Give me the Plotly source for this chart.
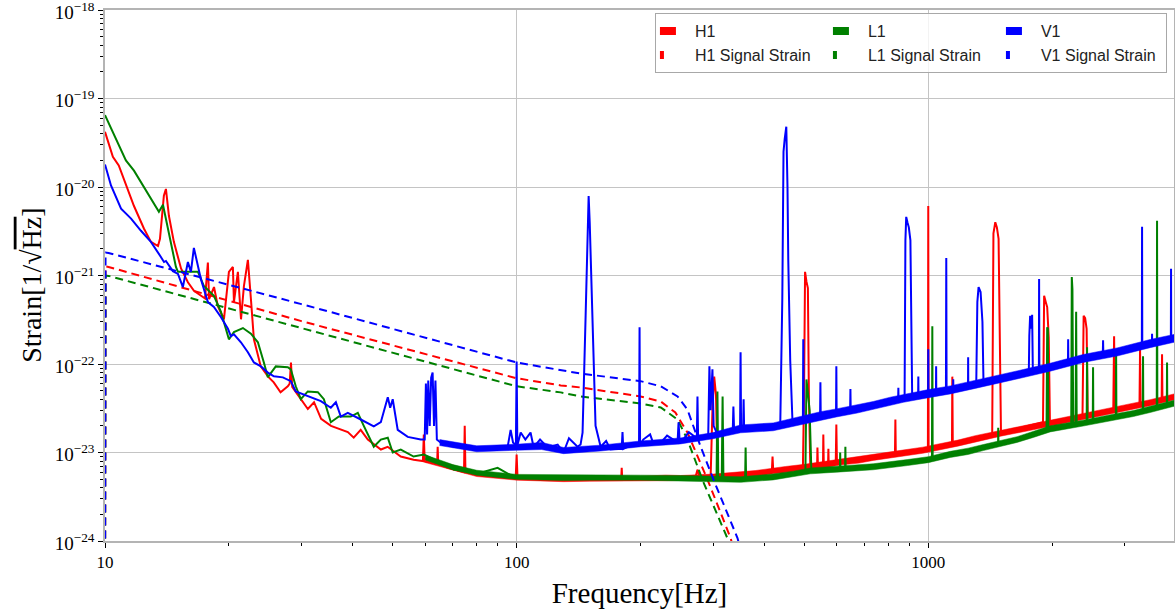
import plotly.graph_objects as go

# ---------------- H1 (Hanford) amplitude spectral density ----------------
h1_freq = [
    10.0, 10.45, 10.8, 11.24, 11.76, 12.43, 12.93, 13.45, 13.6, 13.9,
    14.06, 14.3, 14.7, 15.3, 15.9, 16.45, 17.1, 17.5, 17.78, 17.9,
    18.4, 18.8, 19.45, 20.0, 20.45, 20.57, 21.03, 21.4, 21.75, 22.24,
    22.62, 23.0, 23.9, 24.9, 25.7, 26.7, 27.8, 28.1, 28.3, 28.5,
    28.75, 29.6, 31.1, 32.2, 33.5, 35.4, 37.4, 38.9, 40.2, 41.8,
    43.5, 46.8, 48.6, 52.3, 56.2, 59.2, 59.5, 59.8, 62.9, 64.1,
    64.3, 64.5, 68.0, 74.5, 74.8, 75.1, 82.0, 99.5, 100.0, 100.5,
    150, 179.5, 180, 180.5, 250, 272, 275, 278, 296, 299,
    302, 305, 308, 350, 417, 418.5, 420, 496, 499, 502,
    506, 510, 513, 517, 537, 538, 539.5, 555, 556, 557.5,
    571, 572, 573, 596, 598, 600, 610, 735, 830, 832,
    834, 970, 998, 1000, 1002, 1142, 1144, 1147, 1180, 1430,
    1440, 1455, 1468, 1482, 1495, 1502, 1900, 1912, 1930, 1945,
    1962, 1975, 2370, 2385, 2405, 2425, 2440, 2615, 2815, 2828,
    2840, 3260, 3270, 3280, 3460, 3690, 3698, 3706, 3955,
]
h1_asd = [
    4.2e-20, 2.2e-20, 1.75e-20, 1.04e-20, 6.1e-21, 3.4e-21, 2.4e-21, 2.15e-21, 2.6e-21, 8.0e-21,
    9.5e-21, 4.7e-21, 2.4e-21, 1.2e-21, 8.4e-22, 6.7e-22, 5.9e-22, 5.5e-22, 1.4e-21, 5.4e-22,
    7.4e-22, 4.5e-22, 3.2e-22, 1.1e-21, 1.25e-21, 5.0e-22, 1.1e-21, 3.2e-22, 7.6e-22, 1.5e-21,
    5.4e-22, 1.9e-22, 9.4e-23, 7.2e-23, 6.2e-23, 4.8e-23, 5.6e-23, 6.0e-23, 1.04e-22, 5.5e-23,
    5.2e-23, 4.3e-23, 3.1e-23, 3.7e-23, 2.4e-23, 2.0e-23, 1.8e-23, 1.7e-23, 1.47e-23, 1.8e-23,
    1.4e-23, 1.08e-23, 1.16e-23, 9.0e-24, 8.3e-24, 8.0e-24, 1.6e-23, 7.9e-24, 7.7e-24, 7.5e-24,
    1.16e-23, 7.4e-24, 6.7e-24, 6.0e-24, 2.0e-23, 6.0e-24, 5.6e-24, 5.2e-24, 9.5e-24, 5.2e-24,
    5.05e-24, 5.05e-24, 6.7e-24, 5.05e-24, 5.15e-24, 5.3e-24, 6.4e-24, 5.4e-24, 5.3e-24, 3.0e-23,
    7.2e-23, 4.5e-23, 5.3e-24, 5.6e-24, 6.3e-24, 9.0e-24, 6.4e-24, 6.8e-24, 4.0e-23, 1.1e-21,
    8.5e-22, 7.2e-22, 4.0e-23, 6.9e-24, 7.1e-24, 1.14e-23, 7.1e-24, 7.2e-24, 1.6e-23, 7.2e-24,
    7.4e-24, 1.1e-23, 7.4e-24, 7.6e-24, 2.07e-23, 7.6e-24, 7.8e-24, 9.0e-24, 9.5e-24, 2.36e-23,
    9.5e-24, 1.05e-23, 1.06e-23, 6.1e-21, 1.07e-23, 1.25e-23, 7.2e-23, 1.25e-23, 1.29e-23, 1.6e-23,
    3.0e-21, 4.0e-21, 3.5e-21, 2.6e-21, 1.0e-22, 1.68e-23, 2.2e-23, 5.9e-22, 5.0e-22, 4.4e-22,
    2.0e-22, 2.24e-23, 2.6e-23, 3.5e-22, 3.3e-22, 2.5e-22, 2.65e-23, 2.83e-23, 3.0e-23, 2.06e-22,
    3.0e-23, 3.5e-23, 1.47e-22, 3.5e-23, 3.68e-23, 3.9e-23, 1.29e-22, 3.9e-23, 4.3e-23,
]
# spread of the noisy floor (lower / upper edge)
h1_band_freq = [60, 70, 80, 100, 130, 150, 200, 230, 250, 300, 380, 420, 450, 500, 560,
                610, 680, 735, 850, 970, 1180, 1300, 1500, 1750, 1980, 2250, 2615, 3000, 3460, 3955]
h1_band_low = [7.7e-24, 6.3e-24, 5.35e-24, 4.87e-24, 4.68e-24, 4.73e-24, 4.73e-24, 4.8e-24, 4.83e-24, 4.93e-24,
               5.3e-24, 5.74e-24, 5.9e-24, 6.29e-24, 6.7e-24, 7.22e-24, 7.6e-24, 8.14e-24, 9.0e-24, 9.8e-24,
               1.18e-23, 1.32e-23, 1.53e-23, 1.76e-23, 1.99e-23, 2.25e-23, 2.59e-23, 2.95e-23, 3.38e-23, 3.93e-23]
h1_band_high = [8.75e-24, 7.2e-24, 6.1e-24, 5.55e-24, 5.45e-24, 5.39e-24, 5.39e-24, 5.55e-24, 5.5e-24, 5.7e-24,
                6.25e-24, 6.7e-24, 6.95e-24, 7.35e-24, 7.95e-24, 8.43e-24, 9.0e-24, 9.51e-24, 1.05e-23, 1.15e-23,
                1.38e-23, 1.55e-23, 1.78e-23, 2.08e-23, 2.32e-23, 2.65e-23, 3.03e-23, 3.45e-23, 3.95e-23, 4.59e-23]
h1_sig_freq = [10.0, 10.03, 10.2, 30.0, 100.0, 128.0, 143.0, 200.0, 224.0, 243.0, 260.0, 291.0, 331.0, 360.0]
h1_sig = [1e-25, 1.27e-21, 1.25e-21, 3.05e-22, 6.9e-23, 5.73e-23, 5.43e-23, 4.3e-23, 3.77e-23, 2.83e-23,
          1.68e-23, 4.92e-24, 1.08e-24, 2.5e-25]

# ---------------- L1 (Livingston) ----------------
l1_freq = [
    10.0, 11.24, 11.76, 12.43, 13.52, 13.83, 14.22, 14.87, 15.04, 16.82,
    17.39, 18.39, 19.12, 19.66, 20.0, 20.57, 21.63, 22.62, 23.52, 24.32,
    24.87, 26.0, 27.8, 28.28, 29.07, 29.9, 31.09, 32.89, 34.02, 35.37,
    36.99, 39.55, 41.13, 42.53, 44.98, 46.78, 48.64, 50.0, 52.3, 56.2,
    59.5, 65.4, 70.3, 76.0, 81.8, 89.9, 98.3, 150, 200, 300,
    306, 307.5, 309, 315, 316.5, 318, 359, 360, 361, 420,
    503, 506, 510, 515, 520, 610, 611, 612, 628, 629,
    630, 735, 890, 1000, 1021, 1023, 1025, 1131, 1360, 1478,
    1479, 1481, 1644, 1938, 1945, 1952, 1958, 1978, 2225, 2232,
    2240, 2250, 2280, 2287, 2294, 2378, 2426, 2431, 2436, 2510,
    2514, 2518, 2855, 2860, 2865, 2875, 3320, 3325, 3330, 3459,
    3590, 3596, 3602, 3798, 3803, 3808, 3955,
]
l1_asd = [
    6.5e-20, 2.0e-20, 1.53e-20, 1.0e-20, 5.25e-21, 6.3e-21, 3.4e-21, 1.25e-21, 1.1e-21, 1.1e-21,
    7.6e-22, 5.9e-22, 3.9e-22, 2.5e-22, 1.9e-22, 2.3e-22, 2.55e-22, 2.2e-22, 1.76e-22, 1.04e-22,
    7.1e-23, 9.4e-23, 9.2e-23, 8.7e-23, 5.6e-23, 4.0e-23, 4.9e-23, 4.8e-23, 4.0e-23, 2.2e-23,
    2.55e-23, 2.55e-23, 2.8e-23, 2.0e-23, 1.16e-23, 1.4e-23, 1.47e-23, 1.0e-23, 1.08e-23, 9.0e-24,
    9.5e-24, 7.7e-24, 6.4e-24, 6.1e-24, 5.9e-24, 6.7e-24, 5.3e-24, 5.2e-24, 5.2e-24, 5.05e-24,
    5.05e-24, 4.9e-23, 5.05e-24, 5.0e-24, 4.3e-23, 5.0e-24, 4.95e-24, 1.14e-23, 4.95e-24, 5.3e-24,
    6.1e-24, 6.7e-23, 5.0e-23, 3.0e-23, 6.2e-24, 6.5e-24, 1.0e-23, 6.5e-24, 6.6e-24, 1.16e-23,
    6.6e-24, 6.9e-24, 7.7e-24, 8.3e-24, 8.4e-24, 2.67e-22, 8.4e-24, 9.5e-24, 1.14e-23, 1.25e-23,
    1.9e-23, 1.25e-23, 1.4e-23, 1.8e-23, 2.6e-22, 2.5e-22, 1.85e-23, 1.91e-23, 2.05e-23, 9.6e-22,
    7.0e-22, 2.05e-23, 2.1e-23, 3.9e-22, 2.1e-23, 2.18e-23, 2.2e-23, 1.55e-22, 2.2e-23, 2.3e-23,
    9.2e-23, 2.3e-23, 2.5e-23, 1.47e-22, 2.5e-23, 2.55e-23, 2.9e-23, 1.22e-22, 2.9e-23, 3.06e-23,
    3.2e-23, 4.15e-21, 3.2e-23, 3.5e-23, 1.04e-22, 3.5e-23, 3.68e-23,
]
l1_band_freq = [60, 70, 80, 100, 130, 150, 200, 250, 300, 350, 420, 470, 517, 600, 735,
                890, 1000, 1131, 1250, 1360, 1644, 1800, 1978, 2378, 2600, 2875, 3150, 3459, 3955]
l1_band_low = [8.25e-24, 6.4e-24, 5.53e-24, 4.97e-24, 4.82e-24, 4.87e-24, 4.87e-24, 4.78e-24, 4.7e-24, 4.6e-24,
               4.9e-24, 5.3e-24, 5.74e-24, 6.0e-24, 6.38e-24, 7.12e-24, 7.68e-24, 8.79e-24, 9.5e-24, 1.05e-23,
               1.3e-23, 1.48e-23, 1.71e-23, 1.99e-23, 2.15e-23, 2.36e-23, 2.55e-23, 2.83e-23, 3.33e-23]
l1_band_high = [9.4e-24, 7.3e-24, 6.3e-24, 5.66e-24, 5.55e-24, 5.55e-24, 5.55e-24, 5.5e-24, 5.43e-24, 5.32e-24,
                5.73e-24, 6.15e-24, 6.7e-24, 7.0e-24, 7.46e-24, 8.32e-24, 8.97e-24, 1.03e-23, 1.12e-23, 1.23e-23,
                1.51e-23, 1.72e-23, 2.0e-23, 2.32e-23, 2.5e-23, 2.76e-23, 2.98e-23, 3.31e-23, 3.89e-23]
l1_sig_freq = [10.0, 10.03, 10.2, 30.0, 100.0, 128.0, 143.0, 200.0, 224.0, 246.0, 260.0, 284.0, 325.0, 355.0]
l1_sig = [1e-25, 1.0e-21, 9.9e-22, 2.54e-22, 5.6e-23, 4.78e-23, 4.3e-23, 3.58e-23, 3.23e-23, 2.36e-23,
          1.40e-23, 4.67e-24, 1.08e-24, 2.5e-25]

# ---------------- V1 (Virgo) ----------------
v1_freq = [
    10.0, 10.34, 10.94, 11.57, 12.23, 12.93, 13.67, 13.91, 14.06, 14.62,
    15.04, 15.46, 15.9, 16.17, 16.44, 16.82, 17.1, 17.78, 18.39, 19.12,
    19.89, 20.22, 20.57, 21.39, 22.24, 23.0, 23.92, 24.87, 25.72, 27.04,
    28.28, 29.07, 31.09, 33.45, 35.37, 36.38, 37.4, 38.89, 41.82, 44.98,
    46.78, 48.0, 48.64, 49.3, 50.0, 51.42, 54.39, 58.48, 59.8, 60.2,
    60.6, 61.0, 61.5, 62.0, 62.5, 63.0, 63.5, 64.0, 65.4, 70.3,
    76.0, 81.8, 88.0, 95.1, 96.7, 98.0, 99.6, 100.0, 100.4, 102.3,
    105, 108.1, 110, 114, 118.9, 125.8, 130, 134, 140.6, 143, 144.6, 147.1,
    149.0, 149.6, 150.5, 153, 155.5, 160, 165, 169, 180, 180.8, 181.6,
    186, 198.3, 198.9, 199.5, 203, 211, 215, 224, 232, 246, 247.4, 249, 254, 262,
    274, 275, 276, 280, 292, 294, 296, 299, 301, 307.5,
    325, 335, 336.2, 337.5, 349, 350, 351, 355, 356, 357,
    370, 391, 421, 437, 442, 445, 448, 452, 455, 457,
    462, 468, 496, 497, 498, 508, 546, 547, 548, 597,
    598, 599, 646, 647, 648, 672, 735, 809, 845, 846,
    847, 872, 876, 880, 884, 890, 897, 905, 910, 914,
    945, 946, 947, 994, 999, 1000, 1001, 1044, 1045, 1046,
    1104, 1106, 1108, 1131, 1149, 1150, 1151, 1176, 1249, 1250,
    1251, 1308, 1316, 1325, 1340, 1354, 1362, 1438, 1701, 1755,
    1760, 1768, 1778, 1788, 1795, 1857, 1859, 1862, 1978, 2185,
    2187, 2190, 2378, 2615, 2655, 2659, 2663, 2875, 3145, 3303,
    3307, 3311, 3459, 3495, 3497, 3500, 3803, 3885, 3889, 3893,
    3955,
]
v1_asd = [
    1.8e-20, 1.04e-20, 5.7e-21, 4.4e-21, 3.2e-21, 2.4e-21, 1.62e-21, 1.42e-21, 1.46e-21, 1.12e-21,
    1.04e-21, 7.4e-22, 1.42e-21, 1.1e-21, 2.05e-21, 1.28e-21, 9.1e-22, 5.0e-22, 4.4e-22, 3.4e-22,
    2.5e-22, 2.06e-22, 2.17e-22, 1.76e-22, 1.36e-22, 1.04e-22, 9.4e-23, 8.0e-23, 7.25e-23, 7.06e-23,
    6.4e-23, 4.9e-23, 4.3e-23, 3.8e-23, 3.2e-23, 3.7e-23, 2.55e-23, 2.8e-23, 2.36e-23, 1.97e-23,
    2.2e-23, 3.5e-23, 4.2e-23, 3.2e-23, 4.0e-23, 1.8e-23, 1.5e-23, 1.4e-23, 1.4e-23, 6.0e-23,
    1.6e-23, 6.5e-23, 2.0e-23, 7.0e-23, 8.0e-23, 2.0e-23, 6.5e-23, 1.4e-23, 1.29e-23, 1.16e-23,
    1.14e-23, 1.08e-23, 1.14e-23, 1.16e-23, 1.8e-23, 1.3e-23, 1.2e-23, 1.07e-22, 1.2e-23, 1.68e-23,
    1.4e-23, 1.68e-23, 1.14e-23, 1.4e-23, 1.14e-23, 1.23e-23, 1.0e-23, 1.45e-23, 1.16e-23, 1.23e-23, 1.68e-23, 3.5e-22,
    6.0e-21, 7.9e-21, 4.0e-21, 2.3e-22, 2.0e-23, 1.16e-23, 1.35e-23, 1.08e-23, 1.1e-23, 1.7e-23, 1.1e-23,
    1.16e-23, 1.2e-23, 2.6e-22, 1.2e-23, 1.4e-23, 1.6e-23, 1.25e-23, 1.29e-23, 1.55e-23, 1.3e-23, 2.2e-23, 1.3e-23, 1.4e-23, 1.7e-23,
    1.45e-23, 4.3e-23, 1.45e-23, 1.5e-23, 1.5e-23, 9.4e-23, 3.0e-23, 8.7e-23, 2.0e-23, 1.6e-23,
    1.7e-23, 1.75e-23, 3.3e-23, 1.8e-23, 1.85e-23, 1.36e-22, 1.85e-23, 1.85e-23, 4.0e-23, 1.85e-23,
    1.9e-23, 1.95e-23, 1.95e-23, 2.1e-23, 5.4e-22, 2.5e-20, 3.5e-20, 4.8e-20, 1.0e-20, 1.5e-21,
    1.1e-22, 2.2e-23, 2.4e-23, 1.9e-22, 2.4e-23, 2.45e-23, 2.6e-23, 6.2e-23, 2.6e-23, 2.8e-23,
    9.4e-23, 2.8e-23, 3.0e-23, 5.2e-23, 3.0e-23, 3.1e-23, 3.4e-23, 3.8e-23, 3.95e-23, 5.4e-23,
    3.95e-23, 4.1e-23, 4.2e-23, 2.5e-21, 4.6e-21, 4.0e-21, 3.5e-21, 2.5e-21, 1.0e-22, 4.3e-23,
    4.4e-23, 7.2e-23, 4.4e-23, 4.6e-23, 4.6e-23, 1.47e-22, 4.6e-23, 4.8e-23, 9.4e-23, 4.8e-23,
    5.0e-23, 1.58e-21, 5.0e-23, 5.1e-23, 5.2e-23, 6.7e-23, 5.2e-23, 5.3e-23, 5.6e-23, 1.19e-22,
    5.6e-23, 6.0e-23, 5.0e-22, 7.4e-22, 6.5e-22, 3.0e-22, 6.2e-23, 6.5e-23, 7.8e-23, 8.0e-23,
    2.1e-22, 3.5e-22, 2.5e-22, 3.6e-22, 8.3e-23, 8.7e-23, 9.1e-22, 8.7e-23, 9.2e-23, 1.03e-22,
    1.9e-22, 1.03e-22, 1.15e-22, 1.26e-22, 1.28e-22, 1.85e-22, 1.28e-22, 1.37e-22, 1.52e-22, 1.61e-22,
    3.55e-21, 1.61e-22, 1.7e-22, 1.72e-22, 2.2e-22, 1.72e-22, 1.87e-22, 1.91e-22, 1.19e-21, 1.91e-22,
    1.95e-22,
]
v1_band_freq = [65, 80, 100, 115, 130, 160, 200, 250, 300, 350, 420, 470, 547, 598, 672,
                735, 809, 870, 994, 1131, 1300, 1438, 1701, 1978, 2200, 2378, 2875, 3200, 3459, 3955]
v1_band_low = [1.2e-23, 1.02e-23, 1.06e-23, 1.08e-23, 9.7e-24, 1.04e-23, 1.16e-23, 1.25e-23, 1.43e-23, 1.67e-23,
               1.76e-23, 1.98e-23, 2.34e-23, 2.52e-23, 2.79e-23, 3.06e-23, 3.42e-23, 3.69e-23, 4.14e-23, 4.59e-23,
               5.3e-23, 5.86e-23, 7.03e-23, 8.29e-23, 9.5e-23, 1.04e-22, 1.23e-22, 1.4e-22, 1.53e-22, 1.76e-22]
v1_band_high = [1.4e-23, 1.19e-23, 1.24e-23, 1.3e-23, 1.14e-23, 1.21e-23, 1.35e-23, 1.46e-23, 1.68e-23, 2.05e-23,
                2.16e-23, 2.44e-23, 2.89e-23, 3.11e-23, 3.44e-23, 3.77e-23, 4.22e-23, 4.55e-23, 5.11e-23, 5.66e-23,
                6.5e-23, 7.22e-23, 8.66e-23, 1.02e-22, 1.16e-22, 1.28e-22, 1.52e-22, 1.72e-22, 1.89e-22, 2.16e-22]
v1_sig_freq = [10.0, 10.03, 10.2, 30.0, 100.0, 128.0, 143.0, 200.0, 224.0, 246.0, 260.0, 280.0, 301.0, 344.0, 370.0]
v1_sig = [1e-25, 1.82e-21, 1.80e-21, 4.75e-22, 1.04e-22, 8.5e-23, 7.8e-23, 6.4e-23, 5.6e-23, 4.3e-23,
          3.06e-23, 1.16e-23, 4.9e-24, 1.08e-24, 3e-25]

# axis ticks
x_tick_vals = [10, 100, 1000]
x_tick_text = ["10", "100", "1000"]
y_tick_vals = [1e-24, 1e-23, 1e-22, 1e-21, 1e-20, 1e-19, 1e-18]
y_tick_text = ["10<sup>−24</sup>", "10<sup>−23</sup>", "10<sup>−22</sup>", "10<sup>−21</sup>",
               "10<sup>−20</sup>", "10<sup>−19</sup>", "10<sup>−18</sup>"]

detectors = [
    ("H1", "#ff0000", h1_freq, h1_asd, h1_band_freq, h1_band_low, h1_band_high, h1_sig_freq, h1_sig, 128),
    ("L1", "#008000", l1_freq, l1_asd, l1_band_freq, l1_band_low, l1_band_high, l1_sig_freq, l1_sig, 128),
    ("V1", "#0000ff", v1_freq, v1_asd, v1_band_freq, v1_band_low, v1_band_high, v1_sig_freq, v1_sig, 120),
]

fig = go.Figure()
for name, color, f, a, bf, blo, bhi, sf, s, _ in detectors:
    assert len(f) == len(a) and len(bf) == len(blo) == len(bhi) and len(sf) == len(s)
    # noisy floor drawn as a filled envelope
    fig.add_trace(go.Scatter(
        x=list(bf) + list(bf[::-1]), y=list(blo) + list(bhi[::-1]),
        mode="lines", fill="toself", fillcolor=color, line=dict(width=0.5, color=color),
        showlegend=False, hoverinfo="skip"))
    fig.add_trace(go.Scatter(
        x=f, y=a, mode="lines", line=dict(color=color, width=2),
        showlegend=False, name=name))
    fig.add_trace(go.Scatter(
        x=sf, y=s, mode="lines", line=dict(color=color, width=2, dash="8px,5px"),
        showlegend=False, name=name + " Signal Strain"))

# legend entries (one column per detector)
for name, color, *rest in detectors:
    col_w = rest[-1]
    fig.add_trace(go.Scatter(
        x=[None], y=[None], mode="lines", name=name, legendgroup=name, legendwidth=col_w,
        line=dict(color=color, width=8, dash="16px,200px")))
    fig.add_trace(go.Scatter(
        x=[None], y=[None], mode="lines", name=name + " Signal Strain", legendgroup=name, legendwidth=col_w,
        line=dict(color=color, width=8, dash="4px,200px")))

serif = "Liberation Serif, Times New Roman, serif"
axis_common = dict(
    type="log", showgrid=True, gridcolor="#c4c4c4", gridwidth=1.2,
    showline=True, linecolor="#b4b4b4", linewidth=1.5, mirror=True,
    ticks="outside", ticklen=5, tickwidth=1, tickcolor="black",
    minor=dict(ticks="outside", ticklen=3, tickwidth=1, tickcolor="black", showgrid=False, dtick="D1"),
    zeroline=False, ticklabeloverflow="allow",
)
fig.update_xaxes(
    range=[1, 3.597], tickmode="array", tickvals=x_tick_vals, ticktext=x_tick_text,
    tickfont=dict(family=serif, size=17, color="black"),
    title=dict(text="Frequency[Hz]", font=dict(family=serif, size=29, color="black"), standoff=12),
    **axis_common)
fig.update_yaxes(
    range=[-24, -18], tickmode="array", tickvals=y_tick_vals, ticktext=y_tick_text,
    tickfont=dict(family=serif, size=19, color="black"), ticklabelshift=2,
    **axis_common)

# vertical axis label, centred on the plotting area
fig.add_annotation(
    text="Strain[1/√<span style='text-decoration:overline'>Hz</span>]",
    xref="paper", yref="paper", x=-0.069, y=0.5, xanchor="center", yanchor="middle",
    yshift=-10, textangle=-90, showarrow=False, font=dict(family=serif, size=28, color="black"))

fig.update_layout(
    width=1175, height=614,
    margin=dict(l=105, r=1, t=10, b=73, autoexpand=False),
    paper_bgcolor="white", plot_bgcolor="white",
    hovermode=False,
    legend=dict(
        orientation="h", traceorder="grouped", entrywidth=128,
        x=0.9934, xanchor="right", y=0.994, yanchor="top",
        bgcolor="rgba(255,255,255,0.8)", bordercolor="#a8a8a8", borderwidth=1,
        font=dict(family="Liberation Sans, Arial, sans-serif", size=16, color="#222222"),
    ),
)

fig.write_html("out.html")
